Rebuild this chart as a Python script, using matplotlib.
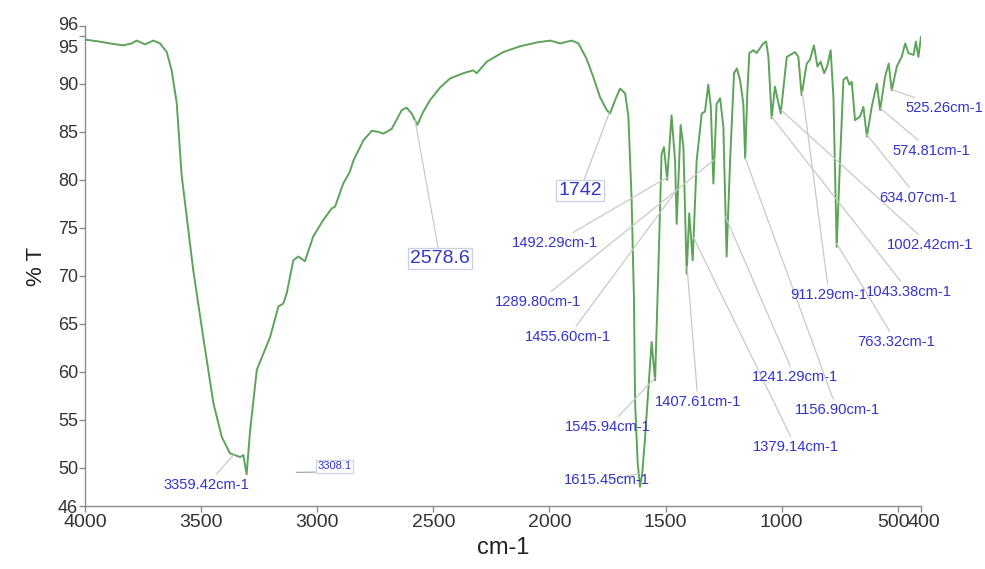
import numpy as np
import matplotlib
matplotlib.use("Agg")
import matplotlib.pyplot as plt
import matplotlib.transforms as mtransforms

plt.rcParams['font.family'] = ['Liberation Sans Narrow', 'Liberation Sans', 'DejaVu Sans']

# IR spectrum (wavenumber in cm-1, transmittance in %)
wavenumber = [4000, 3940, 3892, 3835, 3800, 3777, 3742, 3706, 3677, 3648, 3627, 3605,
              3584, 3534, 3491, 3447, 3411, 3376, 3332, 3318, 3304, 3289, 3260, 3203,
              3167, 3146, 3131, 3103, 3081, 3053, 3017, 2974, 2938, 2923, 2888, 2860,
              2844, 2801, 2765, 2740, 2715, 2679, 2636, 2615, 2593, 2569, 2543, 2514,
              2471, 2428, 2371, 2328, 2313, 2270, 2199, 2127, 2055, 1997, 1954, 1904,
              1875, 1840, 1811, 1782, 1753, 1739, 1717, 1696, 1674, 1660, 1646, 1636,
              1631, 1620, 1610, 1600, 1588, 1560, 1545, 1531, 1517, 1507, 1493, 1474,
              1459, 1452, 1435, 1423, 1409, 1398, 1383, 1366, 1344, 1330, 1316, 1305,
              1294, 1280, 1265, 1251, 1237, 1222, 1205, 1193, 1179, 1165, 1157, 1148,
              1139, 1122, 1108, 1079, 1067, 1057, 1043, 1029, 1004, 978, 942, 928,
              914, 892, 878, 861, 846, 832, 817, 803, 789, 777, 763, 749,
              734, 720, 708, 698, 684, 662, 648, 633, 612, 590, 576, 555,
              539, 526, 504, 483, 468, 454, 432, 422, 411, 400]
transmittance = [94.6, 94.4, 94.2, 94.0, 94.2, 94.5, 94.1, 94.5, 94.2, 93.3, 91.4, 88.0,
                 80.5, 70.6, 63.6, 56.7, 53.2, 51.5, 51.1, 51.3, 49.3, 53.9, 60.2, 63.6,
                 66.8, 67.1, 68.2, 71.6, 72.0, 71.5, 74.1, 75.8, 77.0, 77.2, 79.6, 80.8,
                 82.0, 84.1, 85.1, 85.0, 84.8, 85.3, 87.25, 87.5, 86.9, 85.7, 87.1, 88.3,
                 89.6, 90.55, 91.1, 91.4, 91.1, 92.3, 93.3, 93.9, 94.3, 94.5, 94.2, 94.5,
                 94.2, 92.6, 90.7, 88.6, 87.25, 86.9, 88.3, 89.5, 89.0, 86.6, 77.9, 67.5,
                 56.7, 50.5, 48.0, 49.5, 53.2, 63.1, 59.1, 70.6, 82.7, 83.4, 80.0, 86.7,
                 82.0, 75.4, 85.7, 83.4, 70.2, 76.5, 71.6, 82.0, 86.9, 87.1, 89.9, 87.6,
                 79.6, 87.9, 88.5, 85.5, 72.0, 82.0, 91.1, 91.6, 90.4, 87.9, 82.2, 89.0,
                 93.2, 93.5, 93.2, 94.2, 94.4, 92.8, 86.4, 89.7, 86.9, 92.8, 93.3, 92.8,
                 88.8, 92.1, 92.5, 94.0, 91.8, 92.3, 91.1, 91.9, 93.5, 88.6, 73.0, 81.7,
                 90.4, 90.7, 89.9, 90.2, 86.2, 86.6, 87.6, 84.5, 87.6, 90.0, 87.25, 90.7,
                 92.1, 89.3, 91.8, 92.8, 94.2, 93.2, 93.0, 94.4, 92.8, 94.9]

# peak labels
peak_wn = [3359.42, 1615.45, 1545.94, 1492.29, 1455.60, 1407.61, 1379.14, 1289.80,
           1241.29, 1156.90, 1043.38, 1002.42, 911.29, 763.32, 634.07, 574.81, 525.26]
peak_text = ['3359.42cm-1', '1615.45cm-1', '1545.94cm-1', '1492.29cm-1', '1455.60cm-1',
             '1407.61cm-1', '1379.14cm-1', '1289.80cm-1', '1241.29cm-1', '1156.90cm-1',
             '1043.38cm-1', '1002.42cm-1', '911.29cm-1', '763.32cm-1', '634.07cm-1',
             '574.81cm-1', '525.26cm-1']
# where each label sits (x in cm-1, y in %T)
label_pos = [(3475, 48.2), (1752, 48.7), (1748, 54.2), (1976, 73.4), (1920, 63.6),
             (1360, 56.8), (938, 52.1), (2049, 67.25), (942, 59.4), (761, 56.0),
             (451, 68.3), (361, 73.2), (796, 68.0), (507, 63.1), (413, 78.1),
             (357, 83.0), (300, 87.5)]

boxed_wn = [2578.6, 1742]
boxed_text = ['2578.6', '1742']
boxed_pos = [(2471, 71.8), (1868, 78.9)]

xticks = [4000, 3500, 3000, 2500, 2000, 1500, 1000, 500, 400]
yticks = [46, 50, 55, 60, 65, 70, 75, 80, 85, 90, 95, 96]

wn_asc = np.array(wavenumber[::-1])
t_asc = np.array(transmittance[::-1])

fig = plt.figure(figsize=(9.85, 5.69), dpi=100)
ax = fig.add_axes([0.0863, 0.1107, 0.8487, 0.8433])

ax.plot(wavenumber, transmittance, color='#5da35a', lw=1.4, zorder=3)

ax.set_xlim(4000, 400)
ax.set_ylim(46, 96)

blue = '#3434c8'
grey = '#c9c9c9'

for wn, txt, pos in zip(peak_wn, peak_text, label_pos):
    y = np.interp(wn, wn_asc, t_asc)
    ax.annotate(txt, xy=(wn, y), xytext=pos, ha='center', va='center',
                fontsize=10.6, color=blue, annotation_clip=False,
                arrowprops=dict(arrowstyle='-', color=grey, lw=0.9,
                                shrinkA=1, shrinkB=0))

for wn, txt, pos in zip(boxed_wn, boxed_text, boxed_pos):
    y = np.interp(wn, wn_asc, t_asc)
    ax.annotate(txt, xy=(wn, y), xytext=pos, ha='center', va='center',
                fontsize=14, color=blue,
                bbox=dict(boxstyle='square,pad=0.1', fc='white', ec='#c8d0e8', lw=0.9),
                arrowprops=dict(arrowstyle='-', color=grey, lw=0.9,
                                shrinkA=0, shrinkB=0))

# small boxed note with a flat line underneath
ax.annotate('3308.1', xy=(3090, 49.5), xytext=(2852, 49.6), ha='right', va='bottom',
            fontsize=8, color=blue,
            bbox=dict(boxstyle='square,pad=0.15', fc='white', ec='#c8d0e8', lw=0.8),
            arrowprops=dict(arrowstyle='-', color='#aaaaaa', lw=0.9, relpos=(1, 0),
                            shrinkA=0, shrinkB=0))

for side in ['top', 'right']:
    ax.spines[side].set_visible(False)
for side in ['left', 'bottom']:
    ax.spines[side].set_color('#8c8c8c')
    ax.spines[side].set_linewidth(1.0)

ax.set_xticks(xticks)
ax.set_xticklabels([str(v) for v in xticks])
ax.set_yticks(yticks)
ax.set_yticklabels([str(v) for v in yticks])
ax.tick_params(axis='both', colors='#8c8c8c', length=4, width=1, labelcolor='#333333')
ax.tick_params(axis='x', labelsize=14, pad=2)
ax.tick_params(axis='y', labelsize=13, pad=1)

# squeeze the crowded labels like the original
xl = ax.get_xticklabels()
xl[-2].set_transform(xl[-2].get_transform() + mtransforms.ScaledTranslation(-4/100, 0, fig.dpi_scale_trans))
xl[-1].set_transform(xl[-1].get_transform() + mtransforms.ScaledTranslation(3/100, 0, fig.dpi_scale_trans))
yl = ax.get_yticklabels()
yl[-2].set_transform(yl[-2].get_transform() + mtransforms.ScaledTranslation(0, -11/100, fig.dpi_scale_trans))
yl[-1].set_transform(yl[-1].get_transform() + mtransforms.ScaledTranslation(0, 3/100, fig.dpi_scale_trans))

ax.set_xlabel('cm-1', fontsize=17, color='#222222', labelpad=4)
ax.set_ylabel('% T', fontsize=16, color='#222222', labelpad=8)

fig.savefig('out.png', dpi=100)
